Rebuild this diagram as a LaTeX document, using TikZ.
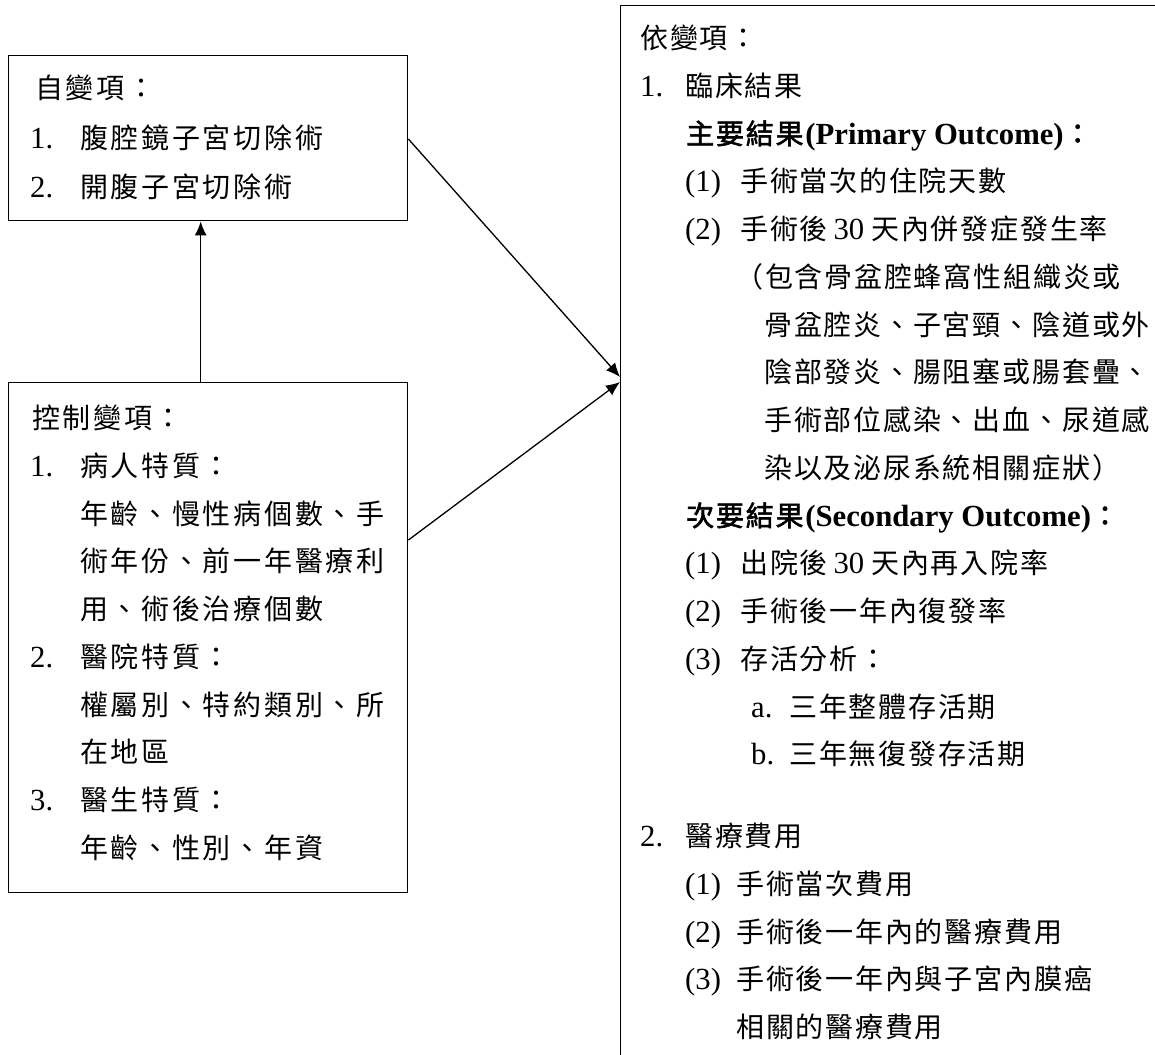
\documentclass[tikz,border=0pt]{standalone}
\usepackage{fontspec}
\setmainfont{Liberation Serif}
\newfontfamily\cjk{Noto Sans CJK TC}
\newfontfamily\cjkbf[FakeBold=2]{Noto Sans CJK TC}
\usetikzlibrary{arrows.meta,calc}
\newdimen\cjkgap \cjkgap=2.7pt
\def\spc#1{\ifx\relax#1\else#1\kern\cjkgap\expandafter\spc\fi}
% left boxes: advance 30.7
\newcommand\C[1]{{\cjkgap=2.7pt\cjk\fontsize{28}{34}\selectfont\spc#1\relax}}
% right box: advance 29.8
\newcommand\R[1]{{\cjkgap=1.8pt\cjk\fontsize{28}{34}\selectfont\spc#1\relax}}
\newcommand\RB[1]{{\cjkgap=1.8pt\cjkbf\fontsize{28}{34}\selectfont\spc#1\relax}}
\tikzset{
  box/.style={draw, line width=1.4pt, inner sep=0pt, anchor=north west},
  txt/.style={anchor=base west, inner sep=0pt, font=\fontsize{30.7}{36}\selectfont},
  arr/.style={line width=1.3pt, -{Latex[length=14pt,width=12pt]}}
}
\begin{document}
\begin{tikzpicture}[x=1pt,y=-1pt]
\useasboundingbox (0,0) rectangle (1155,1054);
\clip (0,0) rectangle (1155,1054);
% boxes
\node[box, minimum width=399pt, minimum height=165pt] (b1) at (8,55) {};
\node[box, minimum width=399pt, minimum height=510pt] (b2) at (8,382) {};
\node[box, minimum width=570pt, minimum height=1090pt] (dep) at (620,5) {};
% box 1 text
\node[txt] (b1t0) at (35,98.5) {\C{自變項：}};
\node[txt] (b1n1) at (30,148) {1.};
\node[txt] (b1t1) at (80,148) {\C{腹腔鏡子宮切除術}};
\node[txt] (b1n2) at (30,197.5) {2.};
\node[txt] (b1t2) at (80,197.5) {\C{開腹子宮切除術}};
% box 2 text
\node[txt] (b2t0) at (32,428.5) {\C{控制變項：}};
\node[txt] (b2n1) at (30,476.25) {1.};
\node[txt] (b2t1) at (80,476.25) {\C{病人特質：}};
\node[txt] (b2t2) at (80,524) {\C{年齡、慢性病個數、手}};
\node[txt] (b2t3) at (80,571.75) {\C{術年份、前一年醫療利}};
\node[txt] (b2t4) at (80,619.5) {\C{用、術後治療個數}};
\node[txt] (b2n2) at (30,667.25) {2.};
\node[txt] (b2t5) at (80,667.25) {\C{醫院特質：}};
\node[txt] (b2t6) at (80,715) {\C{權屬別、特約類別、所}};
\node[txt] (b2t7) at (80,762.75) {\C{在地區}};
\node[txt] (b2n3) at (30,810.5) {3.};
\node[txt] (b2t8) at (80,810.5) {\C{醫生特質：}};
\node[txt] (b2t9) at (80,858.25) {\C{年齡、性別、年資}};
% dependent box text
\node[txt] (d0) at (640,48.5) {\R{依變項：}};
\node[txt] (dn1) at (640,96.25) {1.};
\node[txt] (d1) at (685,96.25) {\R{臨床結果}};
\node[txt] (d2) at (686,144) {\RB{主要結果}{\bfseries(Primary Outcome)}\RB{：}};
\node[txt] (dp3) at (685,191.75) {(1)};
\node[txt] (d3) at (740,191.75) {\R{手術當次的住院天數}};
\node[txt] (dp4) at (685,239.5) {(2)};
\node[txt] (d4) at (740,239.5) {\R{手術後}\kern4pt 30\kern7pt\R{天內併發症發生率}};
\node[txt] (d5) at (735,287.25) {\R{（包含骨盆腔蜂窩性組織炎或}};
\node[txt] (d6) at (764,335) {\R{骨盆腔炎、子宮頸、陰道或外}};
\node[txt] (d7) at (764,382.75) {\R{陰部發炎、腸阻塞或腸套疊、}};
\node[txt] (d8) at (764,430.5) {\R{手術部位感染、出血、尿道感}};
\node[txt] (d9) at (764,478.25) {\R{染以及泌尿系統相關症狀）}};
\node[txt] (d10) at (686,526) {\RB{次要結果}{\bfseries(Secondary Outcome)}\RB{：}};
\node[txt] (dp11) at (685,573.75) {(1)};
\node[txt] (d11) at (740,573.75) {\R{出院後}\kern4pt 30\kern7pt\R{天內再入院率}};
\node[txt] (dp12) at (685,621.5) {(2)};
\node[txt] (d12) at (740,621.5) {\R{手術後一年內復發率}};
\node[txt] (dp13) at (685,669.25) {(3)};
\node[txt] (d13) at (740,669.25) {\R{存活分析：}};
\node[txt] (dl14) at (751,717) {a.};
\node[txt] (d14) at (789,717) {\R{三年整體存活期}};
\node[txt] (dl15) at (751,764.75) {b.};
\node[txt] (d15) at (789,764.75) {\R{三年無復發存活期}};
\node[txt] (dn2) at (640,846.5) {2.};
\node[txt] (d17) at (685,846.5) {\R{醫療費用}};
\node[txt] (dp18) at (685,894.25) {(1)};
\node[txt] (d18) at (736,894.25) {\R{手術當次費用}};
\node[txt] (dp19) at (685,942) {(2)};
\node[txt] (d19) at (736,942) {\R{手術後一年內的醫療費用}};
\node[txt] (dp20) at (685,989.75) {(3)};
\node[txt] (d20) at (736,989.75) {\R{手術後一年內與子宮內膜癌}};
\node[txt] (d21) at (736,1037.5) {\R{相關的醫療費用}};
% connectors
\draw[arr] ([xshift=-7.5pt]b2.north) -- ([xshift=-7.5pt]b1.south);
\draw[arr] ($(b1.north east)+(0,84)$) -- ($(dep.north west)+(0,372)$);
\draw[arr] ($(b2.north east)+(0,158)$) -- ($(dep.north west)+(0,377)$);
\end{tikzpicture}
\end{document}
